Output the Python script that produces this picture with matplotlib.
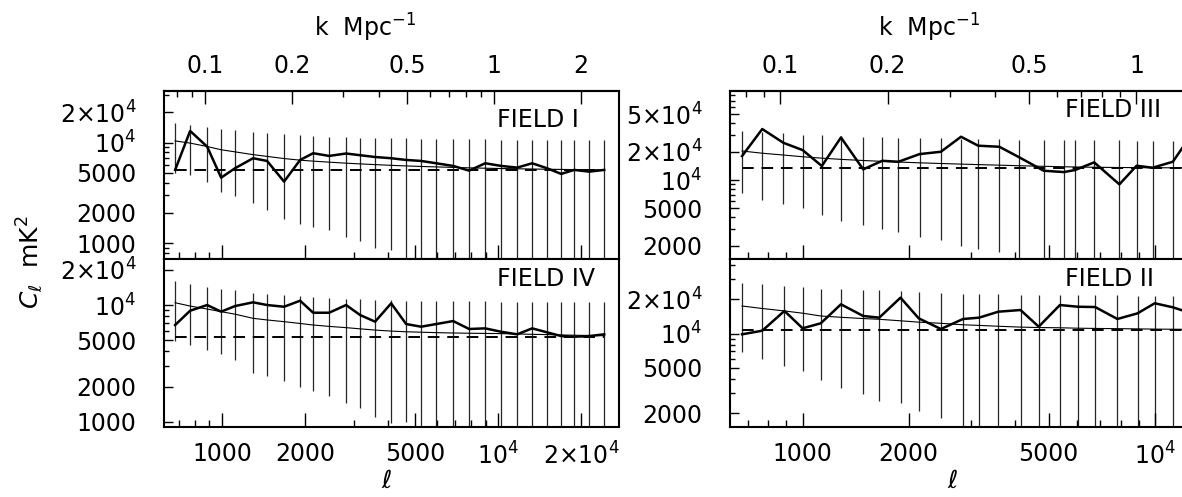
import numpy as np
import matplotlib
matplotlib.use('Agg')
import matplotlib.pyplot as plt
from matplotlib.ticker import FixedLocator, FixedFormatter, LogLocator, NullFormatter

plt.rcParams['font.family'] = 'DejaVu Sans'
plt.rcParams['mathtext.fontset'] = 'dejavusans'
plt.rcParams['font.size'] = 17

# multipole bin centres, left column (fields I and IV)
ell_left = [676, 766, 883, 992, 1114, 1295, 1455, 1677, 1917, 2137, 2442, 2813, 3162,
            3583, 4097, 4642, 5260, 5963, 6871, 7852, 8974, 10254, 11720, 13282, 15050,
            16920, 18860, 21370, 24220]

cl_field1 = [5360, 13070, 9120, 4490, 5570, 7000, 6580, 4100, 6730, 7850, 7380, 7800, 7500,
             7200, 7000, 6730, 6580, 6240, 5870, 5270, 6240, 5870, 5650, 6240, 5560,
             4890, 5360, 5150, 5360]
model_field1 = [10400, 9900, 9150, 8500, 8100, 7600, 7300, 6950, 6700, 6550, 6400, 6250, 6150,
                6050, 5950, 5870, 5800, 5740, 5680, 5620, 5570, 5530, 5500, 5470, 5440,
                5420, 5400, 5380, 5360]
sigma_field1 = [5400, 5100, 5100, 5240, 5150, 5100, 5150, 5200, 5150, 5100, 5050, 5100, 5100,
                5150, 5100, 5150, 5100, 5150, 5200, 5150, 5200, 5150, 5200, 5150, 5200,
                5200, 5150, 5200, 5200]
noise_field1 = 5360

cl_field4 = [6740, 8940, 10000, 8770, 9800, 10550, 10000, 9670, 10890, 8590, 8590, 10000, 8210,
             7200, 10340, 6870, 6520, 6870, 7290, 6230, 6310, 5900, 5610, 6310, 5830,
             5420, 5350, 5420, 5610]
model_field4 = [10460, 9800, 9240, 8770, 8350, 7690, 7450, 7200, 6950, 6740, 6560, 6400, 6250,
                6100, 5980, 5900, 5850, 5800, 5760, 5730, 5710, 5690, 5650, 5610, 5580,
                5540, 5510, 5480, 5460]
sigma_field4 = [5500, 5240, 5100, 4930, 5000, 5060, 5000, 4980, 4950, 4900, 4900, 4950, 4950,
                5000, 5000, 4900, 4950, 5000, 5000, 5000, 5050, 5000, 5050, 5050, 5100,
                5100, 5100, 5150, 5200]
noise_field4 = 5350

# right column (fields III and II), last bin lies just past the frame
ell_field3 = [673, 768, 882, 1000, 1134, 1285, 1486, 1684, 1872, 2150, 2470, 2818, 3152,
              3621, 4130, 4840, 5523, 5937, 6730, 7937, 8882, 9868, 11260, 12900]
cl_field3 = [18000, 34900, 24900, 20850, 14100, 28400, 13000, 16030, 15660, 18900, 20000, 28900,
             23200, 22600, 17400, 12560, 12160, 12780, 15420, 9000, 14200, 13530, 15660, 33000]
model_field3 = [20370, 19300, 18460, 17700, 17100, 16600, 16150, 15800, 15550, 15250, 15000,
                14780, 14600, 14400, 14200, 14000, 13850, 13780, 13680, 13600, 13560, 13530,
                13500, 13480]
sigma_field3 = [13000, 13200, 12900, 12600, 12800, 12950, 12800, 12800, 12750, 12800, 12700,
                12800, 12750, 12700, 12800, 12700, 12750, 12800, 12700, 12800, 12750, 12800,
                12800, 12800]
noise_field3 = 13320

ell_field2 = [673, 768, 888, 1000, 1126, 1285, 1486, 1651, 1897, 2136, 2470, 2855, 3172,
              3596, 4158, 4683, 5379, 6056, 6775, 7834, 8941, 10000, 11260, 12850]
cl_field2 = [9860, 10600, 15800, 11130, 12310, 18070, 14270, 13800, 20660, 13620, 10970, 13430,
             13800, 15560, 16100, 11500, 17800, 17200, 17100, 13430, 15060, 18450, 17000, 14900]
model_field2 = [17460, 16600, 15800, 15100, 14270, 13900, 13550, 13350, 12950, 12600, 12310,
                11950, 11800, 11600, 11400, 11300, 11250, 11150, 11100, 11050, 11000, 10950,
                10920, 10900]
sigma_field2 = [10600, 10600, 10600, 10440, 10350, 10550, 10600, 10780, 10500, 10500, 10500,
                10400, 10500, 10450, 10500, 10500, 10450, 10500, 10500, 10550, 10500, 10600,
                10600, 10600]
noise_field2 = 10690

yticks_left = [1000, 2000, 5000, 1e4, 2e4]
yticks_field3 = [2000, 5000, 1e4, 2e4, 5e4]
yticks_field2 = [2000, 5000, 1e4, 2e4]
xticks_left = [1000, 2000, 5000, 1e4, 2e4]
xticks_right = [1000, 2000, 5000, 1e4]
kticks_left = [0.1, 0.2, 0.5, 1, 2]
kticks_right = [0.1, 0.2, 0.5, 1]


def fmt(v):
    if v < 1e4:
        return '%d' % v
    e = int(np.floor(np.log10(v) + 1e-9))
    m = int(round(v / 10 ** e))
    if m == 1:
        return r'$10^{%d}$' % e
    return r'$%d{\times}10^{%d}$' % (m, e)


def k_funcs(a, b):
    # k Mpc^-1 <-> ell
    def fwd(l):
        l = np.clip(np.asarray(l, float), 1e-10, None)
        return 10 ** ((np.log10(l) - a) / b - 1)

    def inv(k):
        k = np.clip(np.asarray(k, float), 1e-10, None)
        return 10 ** (a + b * (np.log10(k) + 1))
    return fwd, inv


def draw_panel(ax, ell, cl, model, sigma, noise, xlim, ylim, xticks, yticks, name, name_xy,
               top_panel, kticks=None, kfun=None):
    ell = np.array(ell, float)
    model = np.array(model, float)
    sigma = np.array(sigma, float)
    lo = np.clip(model - sigma, 1, None)
    ax.vlines(ell, lo, model + sigma, colors='0.15', lw=0.9, zorder=1)
    ax.plot(ell, model, color='k', lw=0.8, zorder=2)
    ax.hlines(noise, ell[0], ell[-1], colors='k', lw=1.4, linestyles=(0, (6, 4)), zorder=2)
    ax.plot(ell, cl, color='k', lw=1.8, zorder=3)

    ax.set_xscale('log')
    ax.set_yscale('log')
    ax.set_xlim(*xlim)
    ax.set_ylim(*ylim)

    ax.yaxis.set_major_locator(FixedLocator(yticks))
    ax.yaxis.set_major_formatter(FixedFormatter([fmt(v) for v in yticks]))
    ax.yaxis.set_minor_locator(LogLocator(subs=np.arange(1, 10)))
    ax.yaxis.set_minor_formatter(NullFormatter())
    ax.xaxis.set_major_locator(FixedLocator(xticks))
    ax.xaxis.set_major_formatter(FixedFormatter([fmt(v) for v in xticks]))
    ax.xaxis.set_minor_locator(LogLocator(subs=np.arange(1, 10)))
    ax.xaxis.set_minor_formatter(NullFormatter())

    ax.tick_params(axis='y', which='major', direction='in', length=6.5, width=1, pad=20)
    ax.tick_params(axis='y', which='minor', direction='in', length=3.6, width=1)
    ax.tick_params(axis='x', which='major', direction='in', length=10, width=1, pad=11,
                   top=False)
    ax.tick_params(axis='x', which='minor', direction='in', length=5, width=1, top=False)
    for s in ax.spines.values():
        s.set_linewidth(1.5)

    if top_panel:
        ax.tick_params(axis='x', labelbottom=False)
        sec = ax.secondary_xaxis('top', functions=kfun)
        sec.xaxis.set_major_locator(FixedLocator(kticks))
        sec.xaxis.set_major_formatter(FixedFormatter(['%g' % k for k in kticks]))
        sec.xaxis.set_minor_locator(LogLocator(subs=np.arange(1, 10)))
        sec.xaxis.set_minor_formatter(NullFormatter())
        sec.tick_params(which='major', direction='in', length=9.5, width=1, pad=9)
        sec.tick_params(which='minor', direction='in', length=4.5, width=1)
        sec.spines['top'].set_linewidth(1.5)

    ax.text(name_xy[0], name_xy[1], name, transform=ax.transAxes, ha='left', va='center',
            fontsize=17)


W, H = 1182, 497
fig = plt.figure(figsize=(W / 100, H / 100), dpi=100)


def px_axes(x0, x1, y0, y1):
    return fig.add_axes([x0 / W, 1 - y1 / H, (x1 - x0) / W, (y1 - y0) / H])


ax1 = px_axes(164, 619, 91, 259)
ax4 = px_axes(164, 619, 259, 427)
ax3 = px_axes(730, 1186, 91, 259)
ax2 = px_axes(730, 1186, 259, 427)

xlim_left = (616, 27400)
xlim_right = (622, 12270)

draw_panel(ax1, ell_left, cl_field1, model_field1, sigma_field1, noise_field1,
           xlim_left, (698, 32600), xticks_left, yticks_left, 'FIELD I', (0.732, 0.827),
           True, kticks_left, k_funcs(2.9384, 1.0471))
draw_panel(ax4, ell_left, cl_field4, model_field4, sigma_field4, noise_field4,
           xlim_left, (901, 24800), xticks_left, yticks_left, 'FIELD IV', (0.732, 0.881),
           False)
draw_panel(ax3, ell_field3, cl_field3, model_field3, sigma_field3, noise_field3,
           xlim_right, (1446, 88600), xticks_right, yticks_field3, 'FIELD III', (0.735, 0.887),
           True, kticks_right, k_funcs(2.937, 1.011))
draw_panel(ax2, ell_field2, cl_field2, model_field2, sigma_field2, noise_field2,
           xlim_right, (1517, 45100), xticks_right, yticks_field2, 'FIELD II', (0.735, 0.881),
           False)

fig.text(365 / W, 1 - 28 / H, r'k  Mpc$^{-1}$', ha='center', va='center', fontsize=17)
fig.text(929 / W, 1 - 28 / H, r'k  Mpc$^{-1}$', ha='center', va='center', fontsize=17)
fig.text(387 / W, 1 - 481 / H, 'ℓ', ha='center', va='center', fontsize=18, style='italic')
fig.text(953 / W, 1 - 481 / H, 'ℓ', ha='center', va='center', fontsize=18, style='italic')
fig.text(30 / W, 1 - 262 / H, r'$C_\ell$  mK$^2$', rotation=90, ha='center', va='center',
         fontsize=18)

fig.savefig('out.png', dpi=100)
